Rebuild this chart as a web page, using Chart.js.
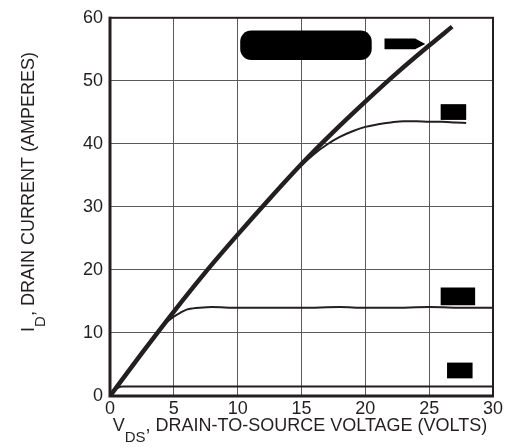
<!DOCTYPE html>
<html>
<head>
<meta charset="utf-8">
<script src="https://cdn.jsdelivr.net/npm/chart.js@4.4.1/dist/chart.umd.min.js"></script>
<style>
  html, body { margin: 0; padding: 0; background: #fff; }
  #wrap { width: 509px; height: 447px; }
</style>
</head>
<body>
<div id="wrap"><canvas id="chart" width="509" height="447"></canvas></div>
<script>
// V_DS (volts) and I_D (amperes)
const vdsLimit = [0, 2.5, 5, 7.5, 10, 12.5, 15, 17.5, 20, 22.5, 25, 26.8];
const idLimit  = [0, 6.8, 13.4, 19.7, 25.6, 31.3, 36.8, 41.9, 46.7, 51.3, 55.6, 58.6];

const vdsHigh = [0, 2.5, 5, 7.5, 10, 12.5, 15, 16, 17, 18, 19, 20, 21, 22, 23, 24, 25, 26, 27, 27.9];
const idHigh  = [0, 6.8, 13.4, 19.7, 25.6, 31.3, 36.6, 38.4, 39.9, 41.1, 42.0, 42.7, 43.1, 43.4, 43.6, 43.6, 43.5, 43.5, 43.4, 43.3];

const vdsMid = [0, 2, 3.9, 4.5, 5, 5.5, 6, 6.5, 7, 8, 10, 12, 15, 18, 20, 22, 25, 28, 30];
const idMid  = [0, 5.4, 10.6, 11.8, 12.6, 13.2, 13.7, 13.9, 14.0, 14.1, 14.0, 14.0, 14.0, 14.1, 14.0, 14.0, 14.1, 14.0, 14.0];

const vdsLow = [0, 0.3, 0.6, 1, 2, 5, 10, 15, 20, 25, 27, 30];
const idLow  = [0, 0.9, 1.3, 1.5, 1.5, 1.5, 1.5, 1.5, 1.5, 1.5, 1.5, 1.5];

const xTicks = [0, 5, 10, 15, 20, 25, 30];
const yTicks = [0, 10, 20, 30, 40, 50, 60];

// blacked-out curve labels, in data units [x0, x1, y0, y1]
const labelBoxes = [
  { kind: 'pill',  box: [10.2, 20.5, 53.3, 58.0] },
  { kind: 'arrow', box: [21.5, 24.7, 55.0, 56.7] },
  { kind: 'rect',  box: [25.9, 27.9, 43.8, 46.3] },
  { kind: 'rect',  box: [25.9, 28.6, 14.4, 17.2] },
  { kind: 'rect',  box: [26.4, 28.4, 2.8, 5.3] }
];

const ink = '#231f20';
const font = 'Liberation Sans, Arial, sans-serif';

function pts(xs, ys) {
  return xs.map((x, i) => ({ x: x, y: ys[i] }));
}

function curve(xs, ys, width) {
  return {
    data: pts(xs, ys),
    borderColor: ink,
    borderWidth: width,
    pointRadius: 0,
    cubicInterpolationMode: 'monotone',
    fill: false
  };
}

const extras = {
  id: 'extras',
  afterDatasetsDraw(chart) {
    const { ctx, chartArea: a, scales: { x, y } } = chart;
    ctx.save();
    ctx.fillStyle = '#000';
    labelBoxes.forEach(lb => {
      const x0 = x.getPixelForValue(lb.box[0]);
      const x1 = x.getPixelForValue(lb.box[1]);
      const y0 = y.getPixelForValue(lb.box[3]);
      const y1 = y.getPixelForValue(lb.box[2]);
      ctx.beginPath();
      if (lb.kind === 'pill') {
        ctx.roundRect(x0, y0, x1 - x0, y1 - y0, 11);
      } else if (lb.kind === 'arrow') {
        const cut = x1 - (x1 - x0) * 0.25;
        ctx.moveTo(x0, y0);
        ctx.lineTo(cut, y0);
        ctx.lineTo(x1, (y0 + y1) / 2);
        ctx.lineTo(cut, y1);
        ctx.lineTo(x0, y1);
        ctx.closePath();
      } else {
        ctx.rect(x0, y0, x1 - x0, y1 - y0);
      }
      ctx.fill();
    });

    // frame
    ctx.strokeStyle = ink;
    ctx.lineWidth = 2;
    ctx.strokeRect(a.left, a.top, a.right - a.left, a.bottom - a.top);
    ctx.lineWidth = 3;
    ctx.beginPath();
    ctx.moveTo(a.left, a.top - 1);
    ctx.lineTo(a.left, a.bottom);
    ctx.lineTo(a.right + 1, a.bottom);
    ctx.stroke();

    // axis titles with subscripts
    ctx.fillStyle = ink;
    ctx.textBaseline = 'alphabetic';
    const big = '18px ' + font, small = '15px ' + font;
    function titleWidth(parts) {
      let w = 0;
      parts.forEach(p => { ctx.font = p[1] ? small : big; w += ctx.measureText(p[0]).width; });
      return w;
    }
    function drawParts(parts, startX, baseY) {
      let cx = startX;
      parts.forEach(p => {
        ctx.font = p[1] ? small : big;
        ctx.fillText(p[0], cx, baseY + (p[1] ? 11 : 0));
        cx += ctx.measureText(p[0]).width;
      });
    }
    const xt = [['V', false], ['DS', true], [', DRAIN-TO-SOURCE VOLTAGE (VOLTS)', false]];
    drawParts(xt, 300 - titleWidth(xt) / 2, 431);

    const yt = [['I', false], ['D', true], [', DRAIN CURRENT (AMPERES)', false]];
    const yw = titleWidth(yt);
    ctx.translate(34, 192);
    ctx.rotate(-Math.PI / 2);
    drawParts(yt, -yw / 2, 0);
    ctx.restore();
  }
};

new Chart(document.getElementById('chart'), {
  type: 'line',
  data: {
    datasets: [
      curve(vdsLimit, idLimit, 4.5),
      curve(vdsHigh, idHigh, 2),
      curve(vdsMid, idMid, 2),
      curve(vdsLow, idLow, 2)
    ]
  },
  options: {
    responsive: false,
    animation: false,
    layout: { padding: { top: 11, right: 16, left: 0, bottom: 0 } },
    plugins: { legend: { display: false }, tooltip: { enabled: false } },
    scales: {
      x: {
        type: 'linear',
        min: 0, max: 30,
        afterBuildTicks: s => { s.ticks = xTicks.map(v => ({ value: v })); },
        afterFit: s => { s.height = 51; },
        grid: { color: '#5a5a5a', lineWidth: 1, drawTicks: false },
        border: { display: false },
        ticks: { color: ink, padding: 2, font: { family: font, size: 18 }, maxRotation: 0 }
      },
      y: {
        type: 'linear',
        min: 0, max: 60,
        afterBuildTicks: s => { s.ticks = yTicks.map(v => ({ value: v })); },
        afterFit: s => { s.width = 110; },
        grid: { color: '#5a5a5a', lineWidth: 1, drawTicks: false },
        border: { display: false },
        ticks: { color: ink, padding: 7, font: { family: font, size: 18 } }
      }
    }
  },
  plugins: [extras]
});
</script>
</body>
</html>
